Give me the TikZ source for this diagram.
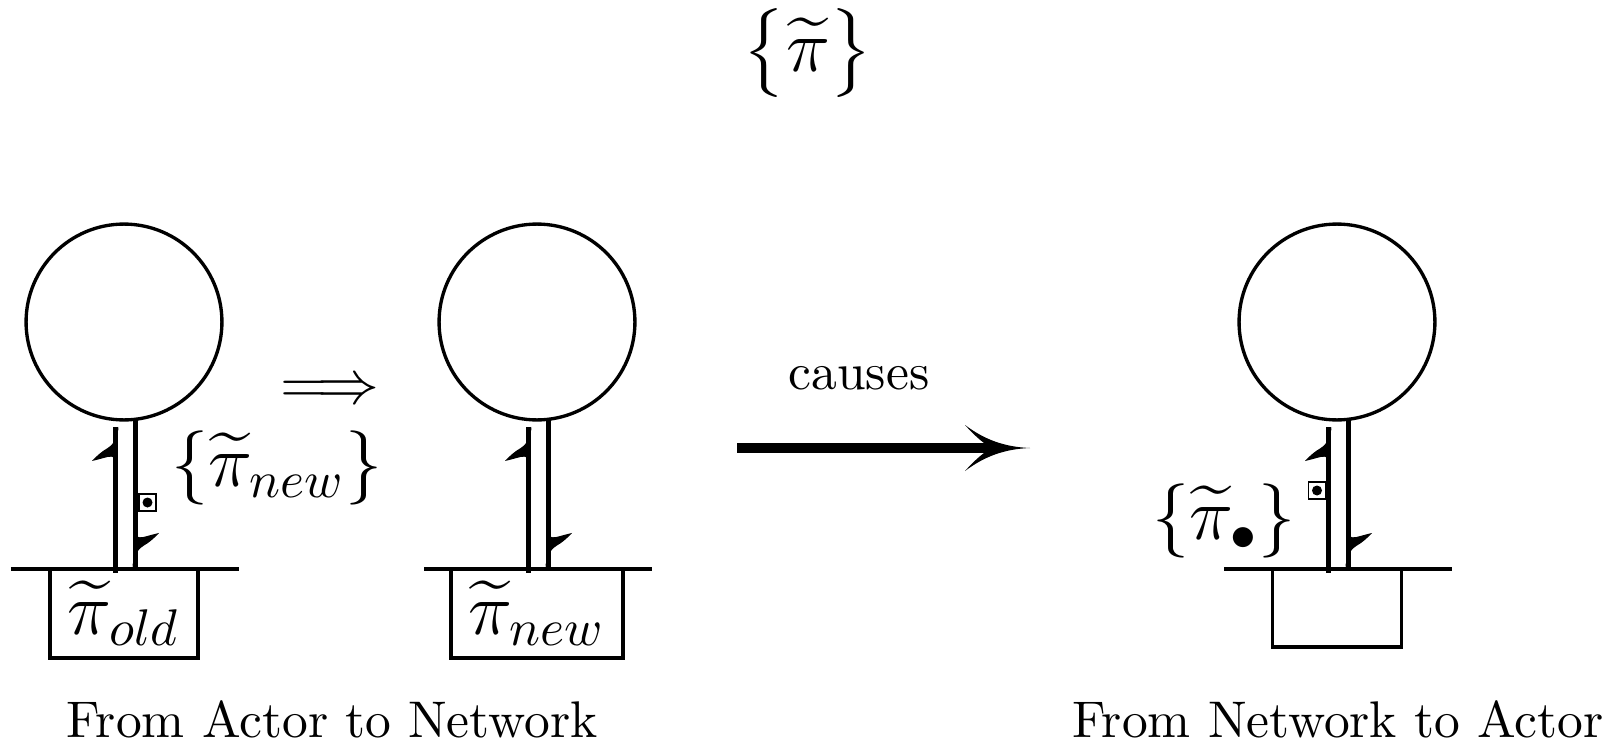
\documentclass[tikz,border=0pt]{standalone}
\usepackage{amsmath}
\usetikzlibrary{calc}
\tikzset{
  actor/.style={draw,circle,line width=0.65pt,minimum size=38pt,inner sep=0pt,outer sep=0pt},
  pot/.style={draw,rectangle,line width=0.65pt,inner sep=0pt,outer sep=0pt,minimum height=17.27pt,font=\Large},
  ground/.style={line width=0.65pt},
  stem/.style={line width=0.85pt},
  lbl/.style={font=\Large,inner sep=0pt},
  txt/.style={inner sep=0pt},
  sq/.style={draw,rectangle,line width=0.35pt,minimum size=3.3pt,inner sep=0pt,outer sep=0pt},
  harp/.pic={\fill (3.5,0) .. controls (2,6) and (0.5,11) .. (-1.5,15) .. controls (-3.5,18) and (-6,20) .. (-8.5,21.5) .. controls (-13,24) and (-18,28) .. (-23.5,34) .. controls (-17,32.5) and (-12,31) .. (-8,30) .. controls (-5,29.5) and (-3,29.5) .. (-1.5,30.5) -- (-1.5,40) -- (2,40) -- (2,4) -- cycle;},
  bighead/.pic={\fill (0,0) .. controls (-25,-1) and (-45,-8) .. (-65,-23) .. controls (-56,-13) and (-48,-6) .. (-43,-3) -- (-43,3) .. controls (-48,6) and (-56,13) .. (-65,23) .. controls (-45,8) and (-25,1) .. (0,0) -- cycle;}
}
\begin{document}
\begin{tikzpicture}[x=0.194pt,y=-0.194pt]
\useasboundingbox (0,0) rectangle (1617,745);

% top label
\node[lbl] (top) at (808,53) {$\bigl\{\widetilde{\pi}\bigr\}$};

% actor 1
\node[actor] (c1) at (124,322) {};
\node[pot,minimum width=28.7pt] (b1) at (124,613.5) {$\widetilde{\pi}_{old}$};
\draw[ground] ($(b1.north)+(-113,0)$) -- ($(b1.north)+(115,0)$);
\draw[stem] ($(b1.north)+(-8.5,-142)$) -- ($(b1.north)+(-8.5,4)$);
\pic at ($(b1.north)+(-8.5,-142)$) {harp};
\draw[stem] ($(c1.south)+(11.5,-2)$) -- ($(b1.north)+(11.5,-2)$);
\pic[rotate=180] at ($(b1.north)+(11.5,-2)$) {harp};
\node[sq] (s1) at (147.5,502.5) {};
\fill (s1.center) circle (5);
\node[lbl] (l1) at (277,468) {$\{\widetilde{\pi}_{new}\}$};

% double arrow
\node[txt,font=\large] (imp) at (330,392) {$\Longrightarrow$};

% actor 2
\node[actor] (c2) at (537,322) {};
\node[pot,minimum width=33.37pt] (b2) at (537,613.5) {$\widetilde{\pi}_{new}$};
\draw[ground] ($(b2.north)+(-113,0)$) -- ($(b2.north)+(115,0)$);
\draw[stem] ($(b2.north)+(-8.5,-142)$) -- ($(b2.north)+(-8.5,4)$);
\pic at ($(b2.north)+(-8.5,-142)$) {harp};
\draw[stem] ($(c2.south)+(11.5,-2)$) -- ($(b2.north)+(11.5,-2)$);
\pic[rotate=180] at ($(b2.north)+(11.5,-2)$) {harp};

% causes arrow
\node[txt,anchor=base] (cause) at (859,390) {causes};
\coordinate (ca) at (737,448);
\coordinate (cb) at (1030,448);
\draw[line width=1.9pt] (ca) -- ($(cb)+(-40,0)$);
\pic at (cb) {bighead};

% actor 3
\node[actor] (c3) at (1337,322) {};
\node[pot,minimum width=25pt,minimum height=15.13pt] (b3) at (1337,608) {};
\draw[ground] ($(b3.north)+(-113,0)$) -- ($(b3.north)+(115,0)$);
\draw[stem] ($(b3.north)+(-8.5,-142)$) -- ($(b3.north)+(-8.5,4)$);
\pic at ($(b3.north)+(-8.5,-142)$) {harp};
\draw[stem] ($(c3.south)+(11.5,-2)$) -- ($(b3.north)+(11.5,-2)$);
\pic[rotate=180] at ($(b3.north)+(11.5,-2)$) {harp};
\node[sq] (s3) at (1317,490.5) {};
\fill (s3.center) circle (5);
\node[lbl] (l3) at (1224,521) {$\{\widetilde{\pi}_{\bullet}\}$};

% captions
\node[txt,anchor=base] (cap1) at (332,737) {From Actor to Network};
\node[txt,anchor=base] (cap2) at (1338,737) {From Network to Actor};
\end{tikzpicture}
\end{document}
